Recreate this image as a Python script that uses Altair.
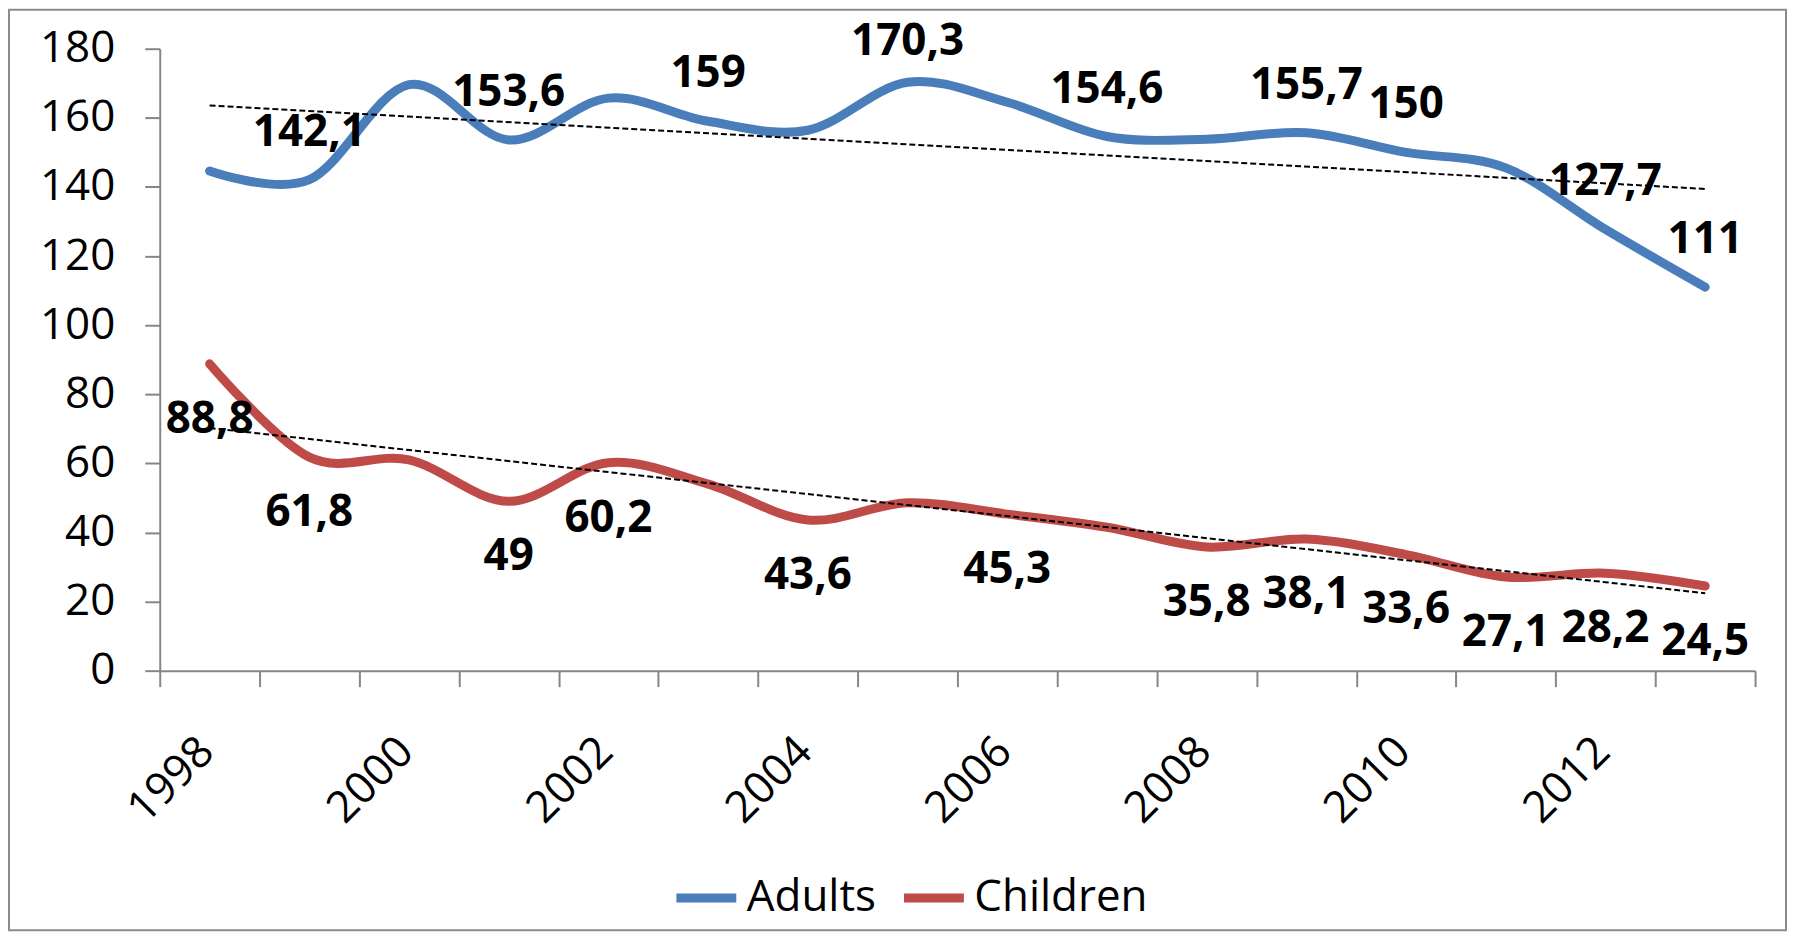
import altair as alt
import pandas as pd

# ---- data ----
years = list(range(1998, 2014))
adults = [144.6, 142.1, 169.6, 153.6, 165.7, 159.0, 156.4, 170.3,
          164.5, 154.6, 153.8, 155.7, 150.0, 145.5, 127.7, 111.0]
children = [88.8, 61.8, 61.0, 49.0, 60.2, 54.0, 43.6, 48.6,
            45.3, 41.5, 35.8, 38.1, 33.6, 27.1, 28.2, 24.5]
adult_labels = ["", "142,1", "", "153,6", "", "159", "", "170,3",
                "", "154,6", "", "155,7", "150", "", "127,7", "111"]
child_labels = ["88,8", "61,8", "", "49", "60,2", "", "43,6", "",
                "45,3", "", "35,8", "38,1", "33,6", "27,1", "28,2", "24,5"]
series_names = ["Adults", "Children"]
series_colors = ["#4A7EBB", "#BE4B48"]
y_ticks = [0, 20, 40, 60, 80, 100, 120, 140, 160, 180]
x_label_years = [1998, 2000, 2002, 2004, 2006, 2008, 2010, 2012]

df = pd.DataFrame({
    "year": years + years,
    "value": adults + children,
    "series": [series_names[0]] * len(years) + [series_names[1]] * len(years),
    "label": adult_labels + child_labels,
})

W, H = 1598, 623
AXIS_GRAY = "#868686"
FONT = "Open Sans"

x_bounds = [y - 0.5 for y in years] + [years[-1] + 0.5]
label_expr = ("indexof([" + ",".join(str(v) for v in x_label_years) +
              "], datum.value + 0.5) >= 0 ? toString(datum.value + 0.5) : ''")

x_scale = alt.Scale(domain=[x_bounds[0], x_bounds[-1]], nice=False, zero=False)
y_scale = alt.Scale(domain=[0, 180], nice=False)

x_axis = alt.Axis(
    values=x_bounds, labelExpr=label_expr, labelAngle=-45,
    labelAlign="right", labelBaseline="middle", labelOffset=47,
    labelPadding=58, tickSize=16, labelOverlap=False, labelFlush=False,
    labelBound=False, grid=False, title=None, domainColor=AXIS_GRAY,
    domainWidth=2, tickColor=AXIS_GRAY, tickWidth=2, labelFontSize=44,
    labelFont=FONT, labelColor="black",
)
y_axis = alt.Axis(
    values=y_ticks, tickSize=15, labelPadding=30, grid=False, title=None,
    domainColor=AXIS_GRAY, domainWidth=2, tickColor=AXIS_GRAY, tickWidth=2,
    labelFontSize=44, labelFont=FONT, labelColor="black",
    labelBaseline="middle",
)

x_enc = alt.X("year:Q", scale=x_scale, axis=x_axis)
y_enc = alt.Y("value:Q", scale=y_scale, axis=y_axis)

base = alt.Chart(df)

lines = base.mark_line(interpolate="cardinal", strokeWidth=9, strokeCap="round").encode(
    x=x_enc,
    y=y_enc,
    color=alt.Color(
        "series:N",
        scale=alt.Scale(domain=series_names, range=series_colors),
        legend=alt.Legend(
            orient="none", legendX=513, legendY=816, direction="horizontal",
            symbolType="stroke", symbolSize=3600, symbolStrokeWidth=9,
            labelFontSize=44, labelFont=FONT, labelColor="black",
            labelOffset=6, columnPadding=9, padding=0, labelLimit=400,
            title=None,
        ),
    ),
)

trend = base.transform_regression(
    "year", "value", groupby=["series"]
).mark_line(color="black", strokeWidth=2, strokeDash=[6, 3]).encode(
    x=x_enc, y=y_enc, detail="series:N"
)

# labels above the adult line are kept inside the chart area near the top
adult_text = base.transform_filter("datum.series == 'Adults'").transform_calculate(
    value="min(datum.value, 168.3)"
).mark_text(
    dy=-47, font=FONT, fontWeight="bold", fontSize=44, color="black",
    baseline="middle", align="center",
).encode(x=x_enc, y=y_enc, text="label:N")

child_text = base.transform_filter("datum.series == 'Children'").mark_text(
    dy=56, font=FONT, fontWeight="bold", fontSize=44, color="black",
    baseline="middle", align="center",
).encode(x=x_enc, y=y_enc, text="label:N")

border = alt.Chart(pd.DataFrame({"b": [0]})).mark_rect(
    fillOpacity=0, stroke="#8c8c8c", strokeWidth=2
).encode(
    x=alt.value(-151), x2=alt.value(1629),
    y=alt.value(-39), y2=alt.value(883),
)

chart = alt.layer(border, lines, trend, adult_text, child_text).properties(
    width=W, height=H,
    autosize=alt.AutoSizeParams(type="none"),
    padding={"left": 152, "top": 40, "right": 33, "bottom": 262},
    background="white",
).configure_view(strokeWidth=0)

chart.save("out.html", embed_options={"renderer": "svg", "actions": False})
